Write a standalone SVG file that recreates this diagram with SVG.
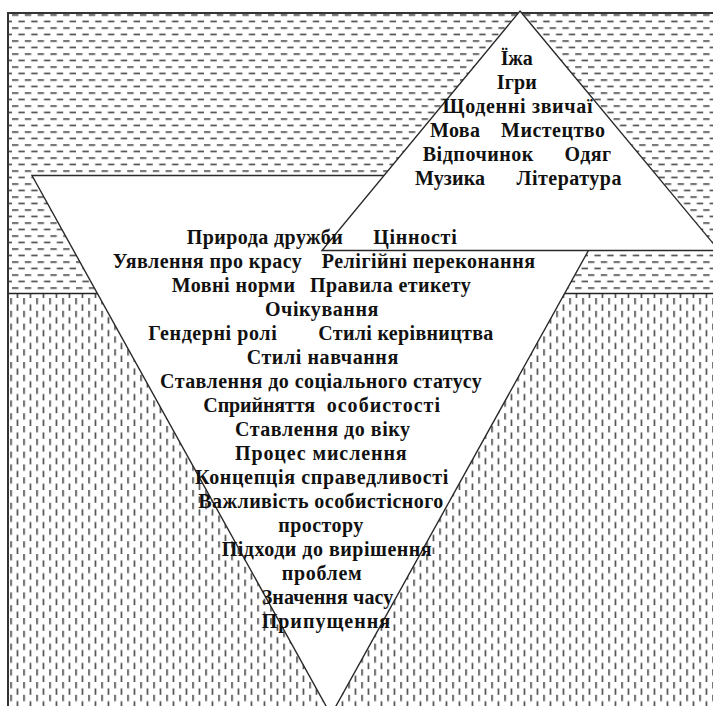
<svg xmlns="http://www.w3.org/2000/svg" width="713" height="706" viewBox="0 0 713 706">
  <style>
    .lbl { font-family: "Liberation Serif", "Times New Roman", serif; font-weight: bold; font-size: 20px; fill: #111; }
    .edge { fill: #fff; stroke: #2a2a2a; stroke-width: 1.4; stroke-linejoin: miter; }
  </style>
  <defs>
    <pattern id="hdash" patternUnits="userSpaceOnUse" x="12" y="14.3" width="12.8" height="13">
      <rect x="0" y="0" width="6.4" height="1.5" fill="#3c3c3c"/>
      <rect x="6.4" y="6.5" width="6.4" height="1.5" fill="#3c3c3c"/>
    </pattern>
    <pattern id="vdash" patternUnits="userSpaceOnUse" x="10.3" y="298" width="13" height="12.8">
      <rect x="0" y="0" width="1.5" height="6.4" fill="#3c3c3c"/>
      <rect x="6.5" y="6.4" width="1.5" height="6.4" fill="#3c3c3c"/>
    </pattern>
  </defs>

  <rect width="713" height="706" fill="#fff"/>

  <g id="background">
    <rect x="8" y="13" width="710" height="280.5" fill="url(#hdash)"/>
    <rect x="8" y="293.5" width="710" height="420" fill="url(#vdash)"/>
    <line x1="8" y1="293.5" x2="713" y2="293.5" stroke="#222" stroke-width="1.6"/>
    <rect x="8" y="13" width="720" height="720" fill="none" stroke="#333" stroke-width="2"/>
  </g>

  <g id="lower-triangle">
    <polygon class="edge" points="32,175.5 630,175.5 331,715"/>
  </g>

  <g id="upper-triangle">
    <polygon class="edge" points="520,11 719,250.5 322,250.5"/>
  </g>

  <g id="upper-labels">
    <text class="lbl" x="500.7" y="65" textLength="32" lengthAdjust="spacing">Їжа</text>
    <text class="lbl" x="496.7" y="89" textLength="40" lengthAdjust="spacing">Ігри</text>
    <text class="lbl" x="442.5" y="113" textLength="150" lengthAdjust="spacing">Щоденні звичаї</text>
    <text class="lbl" x="430" y="137" textLength="50" lengthAdjust="spacing">Мова</text>
    <text class="lbl" x="501" y="137" textLength="104" lengthAdjust="spacing">Мистецтво</text>
    <text class="lbl" x="422.7" y="161" textLength="110.7" lengthAdjust="spacing">Відпочинок</text>
    <text class="lbl" x="564.5" y="161" textLength="46.5" lengthAdjust="spacing">Одяг</text>
    <text class="lbl" x="415" y="185" textLength="70" lengthAdjust="spacing">Музика</text>
    <text class="lbl" x="516.5" y="185" textLength="105" lengthAdjust="spacing">Література</text>
  </g>

  <g id="lower-labels">
    <text class="lbl" x="186.7" y="244" textLength="156" lengthAdjust="spacing">Природа дружби</text>
    <text class="lbl" x="373.3" y="244" textLength="83.4" lengthAdjust="spacing">Цінності</text>
    <text class="lbl" x="112.7" y="268" textLength="189" lengthAdjust="spacing">Уявлення про красу</text>
    <text class="lbl" x="321.7" y="268" textLength="213.3" lengthAdjust="spacing">Релігійні переконання</text>
    <text class="lbl" x="171.7" y="292" textLength="123.3" lengthAdjust="spacing">Мовні норми</text>
    <text class="lbl" x="310" y="292" textLength="160.7" lengthAdjust="spacing">Правила етикету</text>
    <text class="lbl" x="265" y="316" textLength="113.3" lengthAdjust="spacing">Очікування</text>
    <text class="lbl" x="148.3" y="340" textLength="128.4" lengthAdjust="spacing">Гендерні ролі</text>
    <text class="lbl" x="318.3" y="340" textLength="175" lengthAdjust="spacing">Стилі керівництва</text>
    <text class="lbl" x="246.7" y="364" textLength="151.6" lengthAdjust="spacing">Стилі навчання</text>
    <text class="lbl" x="160" y="388" textLength="321.7" lengthAdjust="spacing">Ставлення до соціального статусу</text>
    <text class="lbl" x="203.3" y="412" textLength="111.7" lengthAdjust="spacing">Сприйняття</text>
    <text class="lbl" x="326.7" y="412" textLength="113.3" lengthAdjust="spacing">особистості</text>
    <text class="lbl" x="235" y="436" textLength="175" lengthAdjust="spacing">Ставлення до віку</text>
    <text class="lbl" x="235" y="460" textLength="171.7" lengthAdjust="spacing">Процес мислення</text>
    <text class="lbl" x="195" y="484" textLength="253.3" lengthAdjust="spacing">Концепція справедливості</text>
    <text class="lbl" x="198.3" y="508" textLength="245" lengthAdjust="spacing">Важливість особистісного</text>
    <text class="lbl" x="278.3" y="532" textLength="85" lengthAdjust="spacing">простору</text>
    <text class="lbl" x="221.7" y="556" textLength="210" lengthAdjust="spacing">Підходи до вирішення</text>
    <text class="lbl" x="281.7" y="580" textLength="80" lengthAdjust="spacing">проблем</text>
    <text class="lbl" x="261.7" y="604" textLength="131.6" lengthAdjust="spacing">Значення часу</text>
    <text class="lbl" x="261.7" y="628" textLength="128.3" lengthAdjust="spacing">Припущення</text>
  </g>
</svg>
